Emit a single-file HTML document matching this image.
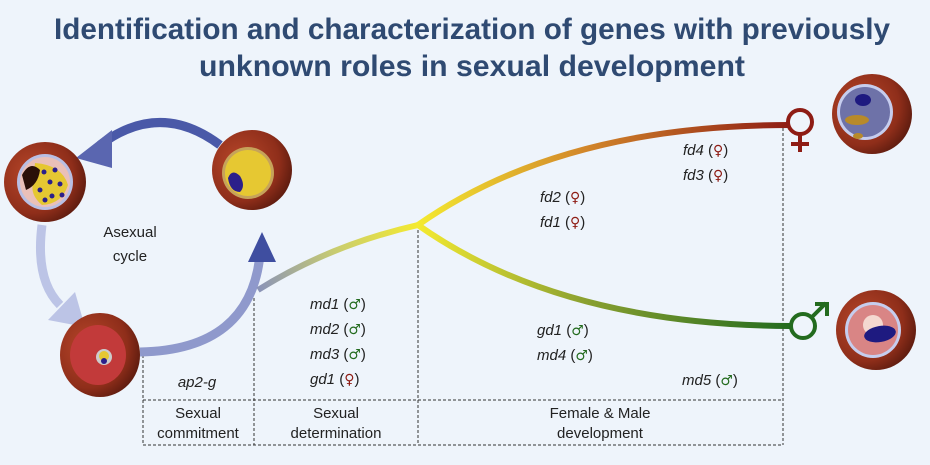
<!DOCTYPE html>
<html><head><meta charset="utf-8"><style>
body{margin:0;background:#eef4fb;}
svg{display:block}
text{font-family:"Liberation Sans",sans-serif;}
.sym{font-family:"DejaVu Sans",sans-serif;font-size:14px}
</style></head><body>
<svg width="930" height="465" viewBox="0 0 930 465">
<defs>
<linearGradient id="stem" x1="258" y1="290" x2="418" y2="225" gradientUnits="userSpaceOnUse">
<stop offset="0" stop-color="#8a93b8"/><stop offset="0.5" stop-color="#c8cc70"/><stop offset="1" stop-color="#f4ea30"/></linearGradient>
<linearGradient id="up" x1="418" y1="0" x2="790" y2="0" gradientUnits="userSpaceOnUse">
<stop offset="0" stop-color="#f4ea30"/><stop offset="0.45" stop-color="#d2862a"/><stop offset="1" stop-color="#8e1c14"/></linearGradient>
<linearGradient id="dn" x1="418" y1="0" x2="790" y2="0" gradientUnits="userSpaceOnUse">
<stop offset="0" stop-color="#f4ea30"/><stop offset="0.45" stop-color="#8aa030"/><stop offset="1" stop-color="#236b1e"/></linearGradient>
<radialGradient id="rbc" cx="0.35" cy="0.4" r="0.7"><stop offset="0" stop-color="#b8472a"/><stop offset="0.7" stop-color="#8f2e1a"/><stop offset="1" stop-color="#5a1a0e"/></radialGradient>
</defs>
<text x="472" y="39" text-anchor="middle" font-size="30" font-weight="bold" fill="#2f4a72" textLength="836" lengthAdjust="spacingAndGlyphs">Identification and characterization of genes with previously</text>
<text x="472" y="76" text-anchor="middle" font-size="30" font-weight="bold" fill="#2f4a72" textLength="546" lengthAdjust="spacingAndGlyphs">unknown roles in sexual development</text>
<g stroke="#333" stroke-width="1" stroke-dasharray="3,2" fill="none">
<line x1="143" y1="355" x2="143" y2="445"/><line x1="254" y1="298" x2="254" y2="445"/>
<line x1="418" y1="225" x2="418" y2="445"/><line x1="783" y1="128" x2="783" y2="445"/>
<line x1="143" y1="400" x2="783" y2="400"/><line x1="143" y1="445" x2="783" y2="445"/>
</g>
<path d="M220 145 Q160 100 100 145" stroke="#4a59a8" stroke-width="9" fill="none"/>
<polygon points="76,158 112,130 112,168" fill="#5a66b0"/>
<path d="M42 225 Q35 280 60 305" stroke="#bcc4e6" stroke-width="9" fill="none"/>
<polygon points="48,320 75,292 85,327" fill="#bcc4e6"/>
<path d="M140 352 Q250 350 260 255" stroke="#8f99cc" stroke-width="9" fill="none"/>
<polygon points="262,232 248,262 276,262" fill="#3f4ea0"/>
<path d="M258 290 Q330 245 418 225" stroke="url(#stem)" stroke-width="6" fill="none"/>
<path d="M418 225 Q560 125 790 125" stroke="url(#up)" stroke-width="6" fill="none"/>
<path d="M418 225 Q560 325 790 326" stroke="url(#dn)" stroke-width="6" fill="none"/>
<circle cx="800" cy="122" r="12" stroke="#8e1c14" stroke-width="4" fill="none"/>
<path d="M800 134 V152 M791 144 H809" stroke="#8e1c14" stroke-width="4"/>
<circle cx="803" cy="326" r="12" stroke="#236b1e" stroke-width="4" fill="none"/>
<path d="M812 317 L826 303 M815 304 H827 V316" stroke="#236b1e" stroke-width="4" fill="none"/>
<g>
<ellipse cx="45" cy="182" rx="41" ry="40" fill="url(#rbc)"/>
<circle cx="45" cy="182" r="28" fill="#b9bfe3"/><circle cx="45" cy="182" r="25" fill="#eac0b8"/>
<path d="M35 163 Q62 165 68 185 Q62 204 42 205 Q30 195 33 183Z" fill="#e5c732"/>
<path d="M22 175 Q30 160 40 170 Q38 185 26 190Z" fill="#2a1008"/>
<g fill="#2b1f8a"><circle cx="44" cy="172" r="2.5"/><circle cx="55" cy="170" r="2.5"/><circle cx="50" cy="182" r="2.5"/><circle cx="60" cy="184" r="2.5"/><circle cx="40" cy="190" r="2.5"/><circle cx="52" cy="196" r="2.5"/><circle cx="45" cy="200" r="2.5"/><circle cx="62" cy="195" r="2.5"/></g>
</g>
<g>
<ellipse cx="252" cy="170" rx="40" ry="40" fill="url(#rbc)"/>
<circle cx="248" cy="173" r="26" fill="#c6a35a"/><circle cx="248" cy="173" r="23" fill="#e6c832"/>
<path d="M228 178 Q232 168 240 176 Q246 186 240 192 Q230 192 228 178Z" fill="#2b1f8a"/>
</g>
<g>
<ellipse cx="100" cy="355" rx="40" ry="42" fill="url(#rbc)"/>
<ellipse cx="98" cy="355" rx="28" ry="30" fill="#c23a3a"/>
<circle cx="104" cy="357" r="8" fill="#ccc"/><circle cx="104" cy="356" r="5" fill="#e6c832"/><circle cx="104" cy="361" r="3" fill="#2b1f8a"/>
</g>
<g>
<ellipse cx="872" cy="114" rx="40" ry="40" fill="url(#rbc)"/>
<circle cx="865" cy="112" r="28" fill="#c6cdee"/><circle cx="865" cy="112" r="25" fill="#6e72a8"/>
<ellipse cx="863" cy="100" rx="8" ry="6" fill="#1e1a80"/>
<ellipse cx="857" cy="120" rx="12" ry="5" fill="#b88a2a"/><ellipse cx="858" cy="136" rx="5" ry="3" fill="#b88a2a"/>
</g>
<g>
<ellipse cx="876" cy="330" rx="40" ry="40" fill="url(#rbc)"/>
<circle cx="873" cy="330" r="28" fill="#c6cdee"/><circle cx="873" cy="330" r="25" fill="#d98585"/>
<circle cx="873" cy="325" r="10" fill="#f4d8d0"/>
<ellipse cx="880" cy="334" rx="16" ry="8" fill="#1e1a80" transform="rotate(-10 880 334)"/>
</g>
<g font-size="15" fill="#222">
<text x="130" y="237" text-anchor="middle">Asexual</text><text x="130" y="261" text-anchor="middle">cycle</text>
<text x="197" y="387" text-anchor="middle" font-style="italic">ap2-g</text>
<text x="198" y="418" text-anchor="middle">Sexual</text><text x="198" y="438" text-anchor="middle">commitment</text>
<text x="336" y="418" text-anchor="middle">Sexual</text><text x="336" y="438" text-anchor="middle">determination</text>
<text x="600" y="418" text-anchor="middle">Female &amp; Male</text><text x="600" y="438" text-anchor="middle">development</text>
<g font-style="italic">
<text x="310" y="309">md1 <tspan font-style="normal">(<tspan class="sym" fill="#236b1e">♂</tspan>)</tspan></text>
<text x="310" y="334">md2 <tspan font-style="normal">(<tspan class="sym" fill="#236b1e">♂</tspan>)</tspan></text>
<text x="310" y="359">md3 <tspan font-style="normal">(<tspan class="sym" fill="#236b1e">♂</tspan>)</tspan></text>
<text x="310" y="384">gd1 <tspan font-style="normal">(<tspan class="sym" fill="#8e1c14">♀</tspan>)</tspan></text>
<text x="537" y="335">gd1 <tspan font-style="normal">(<tspan class="sym" fill="#236b1e">♂</tspan>)</tspan></text>
<text x="537" y="360">md4 <tspan font-style="normal">(<tspan class="sym" fill="#236b1e">♂</tspan>)</tspan></text>
<text x="682" y="385">md5 <tspan font-style="normal">(<tspan class="sym" fill="#236b1e">♂</tspan>)</tspan></text>
<text x="540" y="202">fd2 <tspan font-style="normal">(<tspan class="sym" fill="#8e1c14">♀</tspan>)</tspan></text>
<text x="540" y="227">fd1 <tspan font-style="normal">(<tspan class="sym" fill="#8e1c14">♀</tspan>)</tspan></text>
<text x="683" y="155">fd4 <tspan font-style="normal">(<tspan class="sym" fill="#8e1c14">♀</tspan>)</tspan></text>
<text x="683" y="180">fd3 <tspan font-style="normal">(<tspan class="sym" fill="#8e1c14">♀</tspan>)</tspan></text>
</g></g>
</svg>
</body></html>
